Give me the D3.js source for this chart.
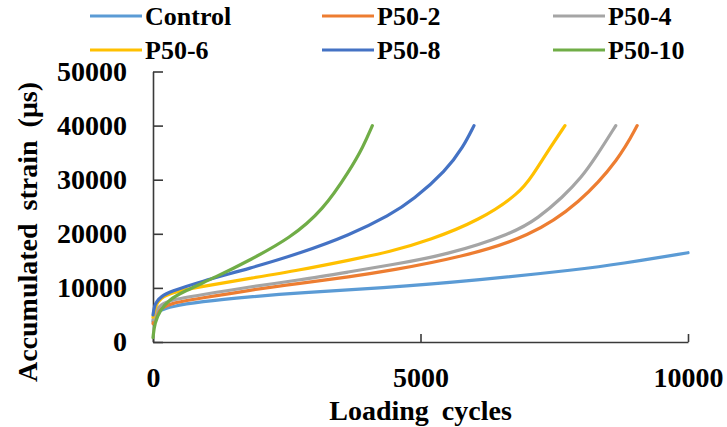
<!DOCTYPE html>
<html>
<head>
<meta charset="utf-8">
<script src="https://cdn.jsdelivr.net/npm/d3@7"></script>
</head>
<body style="margin:0">
<script>
// ========================
// Data
// ========================
const seriesNames = ["Control", "P50-2", "P50-4", "P50-6", "P50-8", "P50-10"];
const seriesColors = ["#5B9BD5", "#ED7D31", "#A5A5A5", "#FFC000", "#4472C4", "#70AD47"];

const controlCycles = [0, 50, 150, 318, 878, 1812, 2746, 4240, 6108, 7975, 8722, 10000];
const controlStrain = [3800, 5200, 5900, 6520, 7450, 8370, 9110, 9920, 11450, 13430, 14410, 16500];

const p502Cycles = [0, 50, 150, 318, 878, 1812, 2746, 3680, 4427, 5796, 7041, 7975, 8722, 9050];
const p502Strain = [3400, 5300, 6200, 7150, 8070, 9600, 10840, 12070, 13170, 15760, 19450, 25620, 33930, 40000];

const p504Cycles = [0, 50, 150, 318, 878, 1812, 2746, 3680, 4427, 5485, 6730, 7200, 7664, 8000, 8287, 8650];
const p504Strain = [4100, 5900, 6900, 7760, 8680, 10210, 11450, 12990, 14220, 16070, 20080, 22900, 26840, 30300, 34300, 40000];

const p506Cycles = [0, 50, 150, 318, 878, 1812, 2746, 3680, 4427, 5174, 6108, 6855, 7100, 7353, 7700];
const p506Strain = [4600, 6900, 8100, 9110, 10210, 11760, 13300, 15150, 16680, 18840, 22530, 27500, 30900, 34850, 40000];

const p508Cycles = [0, 30, 69, 150, 318, 878, 1812, 2746, 3680, 4427, 4862, 5485, 5796, 6000];
const p508Strain = [5000, 6800, 7450, 8400, 9300, 11140, 13610, 16380, 19760, 23460, 26230, 31770, 36000, 40000];

const p5010Cycles = [0, 30, 131, 300, 566, 1189, 1812, 2559, 3181, 3680, 3928, 4100];
const p5010Strain = [800, 3500, 5900, 7800, 9300, 12070, 15150, 19150, 24380, 31770, 36080, 40000];

const xTicks = [0, 5000, 10000];
const yTicks = [0, 10000, 20000, 30000, 40000, 50000];

const allCycles = [controlCycles, p502Cycles, p504Cycles, p506Cycles, p508Cycles, p5010Cycles];
const allStrain = [controlStrain, p502Strain, p504Strain, p506Strain, p508Strain, p5010Strain];

// ========================
// Setup
// ========================
const width = 727, height = 427;
const plot = { left: 153, right: 688, top: 71.5, bottom: 342 };
const serif = "Liberation Serif";

const svg = d3.select("body").append("svg")
    .attr("width", width)
    .attr("height", height);

const x = d3.scaleLinear().domain([0, 10000]).range([plot.left, plot.right]);
const y = d3.scaleLinear().domain([0, 50000]).range([plot.bottom, plot.top]);

// --- Axes (inward ticks) ---
const xAxis = svg.append("g")
    .attr("transform", `translate(0,${plot.bottom})`)
    .call(d3.axisBottom(x).tickValues(xTicks).tickFormat(d3.format("d"))
        .tickSizeInner(-8).tickSizeOuter(0).tickPadding(25));

const yAxis = svg.append("g")
    .attr("transform", `translate(${plot.left},0)`)
    .call(d3.axisLeft(y).tickValues(yTicks).tickFormat(d3.format("d"))
        .tickSizeInner(-10).tickSizeOuter(0).tickPadding(26));

[xAxis, yAxis].forEach(g => {
    g.select(".domain").attr("stroke", "#3a3a3a").attr("stroke-width", 1.6);
    g.selectAll(".tick line").attr("stroke", "#3a3a3a").attr("stroke-width", 1.6);
    g.selectAll(".tick text")
        .attr("fill", "#000")
        .attr("font-family", serif)
        .attr("font-weight", "bold")
        .attr("font-size", 28);
});

// --- Axis titles ---
svg.append("text")
    .attr("x", (plot.left + plot.right) / 2)
    .attr("y", 420)
    .attr("text-anchor", "middle")
    .attr("font-family", serif)
    .attr("font-weight", "bold")
    .attr("font-size", 28)
    .attr("word-spacing", 6)
    .text("Loading cycles");

svg.append("text")
    .attr("transform", `translate(37,232) rotate(-90)`)
    .attr("text-anchor", "middle")
    .attr("font-family", serif)
    .attr("font-weight", "bold")
    .attr("font-size", 28)
    .attr("word-spacing", 6)
    .text("Accumulated strain (μs)");

// --- Lines (smoothed like the spreadsheet original) ---
const line = d3.line()
    .x(d => x(d[0]))
    .y(d => y(d[1]))
    .curve(d3.curveBasis);

seriesNames.forEach((name, i) => {
    const pts = d3.zip(allCycles[i], allStrain[i]);
    svg.append("path")
        .datum(pts)
        .attr("fill", "none")
        .attr("stroke", seriesColors[i])
        .attr("stroke-width", 3.2)
        .attr("stroke-linecap", "round")
        .attr("d", line);
});

// --- Legend ---
const legendCols = [90, 322, 553];
const legendRows = [16, 50];
seriesNames.forEach((name, i) => {
    const lx = legendCols[i % 3];
    const ly = legendRows[Math.floor(i / 3)];
    svg.append("line")
        .attr("x1", lx).attr("x2", lx + 52)
        .attr("y1", ly).attr("y2", ly)
        .attr("stroke", seriesColors[i])
        .attr("stroke-width", 3.2);
    svg.append("text")
        .attr("x", lx + 55)
        .attr("y", ly + 9)
        .attr("font-family", serif)
        .attr("font-weight", "bold")
        .attr("font-size", 26)
        .text(name);
});
</script>
</body>
</html>
